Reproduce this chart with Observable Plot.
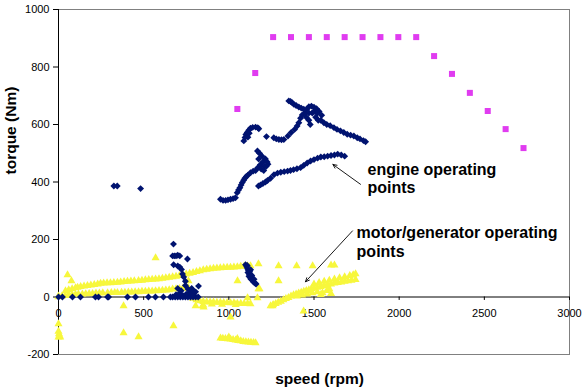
<!DOCTYPE html>
<html><head><meta charset="utf-8">
<script src="https://cdn.jsdelivr.net/npm/d3@7"></script>
<script src="https://cdn.jsdelivr.net/npm/@observablehq/plot@0.6"></script>
<style>html,body{margin:0;padding:0;background:#fff}svg{display:block}</style>
</head><body><div id="chart"></div>
<script>
// ---- axis ticks ----
const xTicks = [0, 500, 1000, 1500, 2000, 2500, 3000];
const yTicks = [-200, 0, 200, 400, 600, 800, 1000];

// ---- maximum engine torque curve (speed rpm, torque Nm) ----
const maxTorqueSpeed  = [1050, 1155, 1260, 1365, 1470, 1575, 1680, 1785, 1890, 1995, 2100, 2205, 2310, 2415, 2520, 2625, 2730];
const maxTorqueValue  = [654, 779, 904, 904, 904, 904, 904, 904, 904, 904, 904, 838, 776, 710, 647, 584, 518];

// ---- engine operating points [speed, torque] ----
const engineIdle = [[0,0],[23,0],[82,0],[129,0],[217,0],[235,0],[288,0],[294,0],[405,0],[452,0],[528,0],[569,0],[616,0],[657,0],[670,0],[685,0],[700,0],[715,0],[730,0],[745,0],[760,0],[775,0],[790,0],[805,0],[820,0],[690,8],[710,12],[730,5],[750,10],[770,15],[790,8],[805,18],[720,22],[760,28],[700,30],[745,40]];
const engineLowMid = [[675,184],[670,143],[680,143],[690,143],[700,145],[712,143],[676,112],[700,108],[712,104],[722,96],[757,132],[728,80],[735,70],[745,55],[822,38],[782,30],[790,22]];
const engineBlob1100 = [[1098,112],[1105,105],[1110,98],[1115,92],[1112,85],[1120,80],[1118,72],[1125,68],[1130,62],[1138,58],[1145,52],[1155,48],[1160,45],[1122,88],[1108,110],[1128,95],[1135,75],[1148,62]];
const engineIsolated = [[325,386],[345,386],[482,377],[1221,558]];
const engineRise = [[951,340],[966,336],[981,336],[995,338],[1010,340],[1025,342],[1039,345],[1049,363],[1057,372],[1065,380],[1072,390],[1079,398],[1087,406],[1094,413],[1103,419],[1112,424],[1127,432],[1143,438],[1157,440],[1170,450],[1185,460],[1200,470],[1215,480],[1225,470],[1210,455],[1195,490],[1180,500],[1168,508],[1175,480],[1190,445],[1205,440],[1220,455],[1230,462]];
const engineLowerCurve = [[1174,386],[1186,390],[1200,395],[1215,400],[1227,405],[1245,413],[1265,425],[1286,431],[1305,434],[1325,436],[1345,438],[1362,440],[1380,443],[1400,446],[1421,450],[1440,458],[1460,466],[1480,473],[1500,478],[1521,483],[1540,487],[1560,488],[1580,490],[1600,492],[1620,494],[1639,497],[1660,494],[1680,490]];
const engineUpperLeft = [[1088,543],[1095,555],[1100,565],[1108,572],[1117,580],[1127,587],[1140,590],[1157,591],[1170,589],[1176,585],[1112,556],[1120,570]];
const engineUpperCurve = [[1264,554],[1279,550],[1294,548],[1309,547],[1323,548],[1347,560],[1366,572],[1386,583],[1401,595],[1411,606],[1421,622],[1431,633]];
const engineUpperBlob = [[1450,640],[1460,655],[1470,662],[1485,664],[1500,660],[1515,655],[1530,645],[1545,632],[1455,625],[1470,615],[1490,640],[1510,625],[1525,615],[1478,600],[1540,615],[1500,645],[1470,640],[1520,640]];
const engineUpperArm = [[1352,682],[1362,680],[1372,676],[1382,670],[1395,666],[1411,661],[1425,657],[1440,653]];
const engineFallLine = [[1558,606],[1575,600],[1595,596],[1617,589],[1635,583],[1655,578],[1675,572],[1695,566],[1715,563],[1734,560],[1754,554],[1770,550],[1790,544],[1803,540]];

// ---- motor/generator operating points [speed, torque] ----
const motorBandUpper = [[41,21],[60,25],[80,28],[100,32],[112,33],[130,36],[150,38],[170,39],[190,41],[210,43],[230,45],[247,47],[265,48],[285,49],[305,49],[325,50],[346,51],[365,52],[385,53],[405,54],[425,55],[445,56],[470,57],[490,58],[510,59],[530,60],[550,61],[570,62],[590,63],[610,65],[630,66],[650,68],[670,70],[690,72],[710,74],[730,77],[750,79],[770,82],[790,85],[810,88],[830,91],[850,94],[870,96],[890,98],[910,99],[930,100],[950,101],[970,102],[990,103],[1010,103],[1030,104],[1050,105],[1070,106],[1090,107],[1110,108],[1127,108]];
const motorBandLower = [[0,0],[20,3],[40,5],[60,7],[80,8],[100,9],[117,10],[140,10],[160,11],[180,12],[200,12],[220,13],[240,13],[260,14],[288,14],[310,15],[330,15],[346,15],[370,16],[390,16],[410,17],[430,17],[450,18],[470,18],[490,19],[510,19],[530,20],[550,20],[570,21],[590,22],[610,23],[630,24],[650,25],[670,27],[690,28],[710,29],[730,30],[750,31],[763,32]];
const motorBandNegative = [[790,-5],[810,-10],[830,-14],[850,-16],[870,-17],[890,-18],[910,-18],[930,-19],[950,-19],[970,-20],[990,-20],[1010,-21],[1030,-21],[1050,-22],[1070,-22],[1090,-23],[1110,-23],[1127,-24],[850,-28],[900,-25],[960,-26],[1040,-27]];
const motorBandBrake = [[951,-143],[965,-144],[980,-145],[995,-146],[1010,-147],[1025,-148],[1040,-150],[1055,-152],[1070,-153],[1085,-155],[1100,-156],[1115,-157],[1130,-158],[1145,-159],[1157,-160],[1000,-140],[1050,-145]];
const motorBandRise = [[1245,-31],[1260,-27],[1275,-23],[1290,-19],[1305,-15],[1320,-10],[1335,-6],[1350,-2],[1365,3],[1380,7],[1395,10],[1410,13],[1425,16],[1440,19],[1455,22],[1470,25],[1485,28],[1500,30],[1520,33],[1540,36],[1560,39],[1580,42],[1600,45],[1620,48],[1640,50],[1660,52],[1680,54],[1700,56],[1720,58],[1744,60]];
const motorBandRiseUpper = [[1500,45],[1530,50],[1560,54],[1590,58],[1620,62],[1650,66],[1680,70],[1710,74],[1730,77],[1744,80]];
const motorBandRiseLower = [[1400,3],[1430,6],[1460,10],[1490,14],[1520,18],[1550,14],[1575,22],[1600,12],[1590,28],[1540,8]];
const motorScattered = [[53,77],[76,56],[0,3],[570,136],[382,-31],[0,-94],[0,-120],[3,-128],[6,-135],[10,-140],[0,-140],[382,-125],[470,-139],[675,-101],[846,-31],[805,-31],[852,-35],[763,56],[1051,56],[1110,-3],[1168,-3],[1174,115],[1174,28],[1180,28],[1292,108],[1292,56],[1257,-31],[1398,108],[1492,108],[1600,111],[1620,111],[1439,-49],[1010,-70]];

// ---- annotations ----
const labelTexts  = ["engine operating\npoints", "motor/generator operating\npoints"];
const labelSpeed  = [1814, 1750];
const labelTorque = [361, 140];
const arrowFrom   = [[1773, 392], [1726, 230]];
const arrowTo     = [[1611, 461], [1450, 53]];

// ---- build rows ----
const rows = list => list.map(([speed, torque]) => ({speed, torque}));
const engine = rows([].concat(engineIdle, engineLowMid, engineBlob1100, engineIsolated, engineRise, engineLowerCurve, engineUpperLeft, engineUpperCurve, engineUpperBlob, engineUpperArm, engineFallLine));
const motor = rows([].concat(motorBandUpper, motorBandLower, motorBandNegative, motorBandBrake, motorBandRise, motorBandRiseUpper, motorBandRiseLower, motorScattered));
const maxCurve = maxTorqueSpeed.map((speed, i) => ({speed, torque: maxTorqueValue[i]}));
const labels = labelTexts.map((text, i) => ({text, speed: labelSpeed[i], torque: labelTorque[i]}));
const arrows = arrowFrom.map((f, i) => ({x1: f[0], y1: f[1], x2: arrowTo[i][0], y2: arrowTo[i][1]}));

const FONT = "'Liberation Sans', Arial, Helvetica, sans-serif";

const chart = Plot.plot({
  width: 585,
  height: 389,
  marginLeft: 58,
  marginRight: 16,
  marginTop: 9,
  marginBottom: 35,
  style: {fontFamily: FONT, background: "#fff", color: "#000"},
  x: {domain: [0, 3000], axis: null},
  y: {domain: [-200, 1000], axis: null},
  marks: [
    Plot.frame({stroke: "#808080"}),
    Plot.axisY(yTicks, {tickSize: 5, tickPadding: 4, fontSize: 11, label: null, tickFormat: d => String(d), stroke: "#000"}),
    Plot.ruleX([0], {stroke: "#000"}),
    Plot.ruleY([0], {stroke: "#000"}),
    Plot.ruleX(xTicks, {x: d => d, y1: 0, y2: -12, stroke: "#000"}),
    Plot.text(xTicks, {x: d => d, y: 0, dy: 16, text: d => String(d), fontSize: 11, lineAnchor: "middle", fill: "#000"}),
    Plot.dot(motor, {x: "speed", y: "torque", symbol: "triangle", r: 3.0, fill: "#f7f73c", stroke: "none"}),
    Plot.dot(engine, {x: "speed", y: "torque", symbol: "diamond2", r: 3.1, fill: "#001370", stroke: "none"}),
    Plot.dot(maxCurve, {x: "speed", y: "torque", symbol: "square", r: 3.4, fill: "#e03cf0", stroke: "none"}),
    Plot.arrow(arrows, {x1: "x1", y1: "y1", x2: "x2", y2: "y2", stroke: "#000", strokeWidth: 0.9, headLength: 7, headAngle: 50}),
    Plot.text(labels, {x: "speed", y: "torque", text: "text", textAnchor: "start", lineAnchor: "bottom", lineHeight: 1.15, fontSize: 16, fontWeight: "bold", fill: "#000"}),
    Plot.text(["speed (rpm)"], {frameAnchor: "bottom", dx: 5.5, dy: 29, lineAnchor: "bottom", fontSize: 15.5, fontWeight: "bold", fill: "#000"}),
    Plot.text(["torque (Nm)"], {frameAnchor: "left", rotate: -90, dx: -47, dy: -7.5, lineAnchor: "middle", fontSize: 15.5, fontWeight: "bold", fill: "#000"})
  ]
});
document.getElementById("chart").appendChild(chart);
</script>
</body></html>
